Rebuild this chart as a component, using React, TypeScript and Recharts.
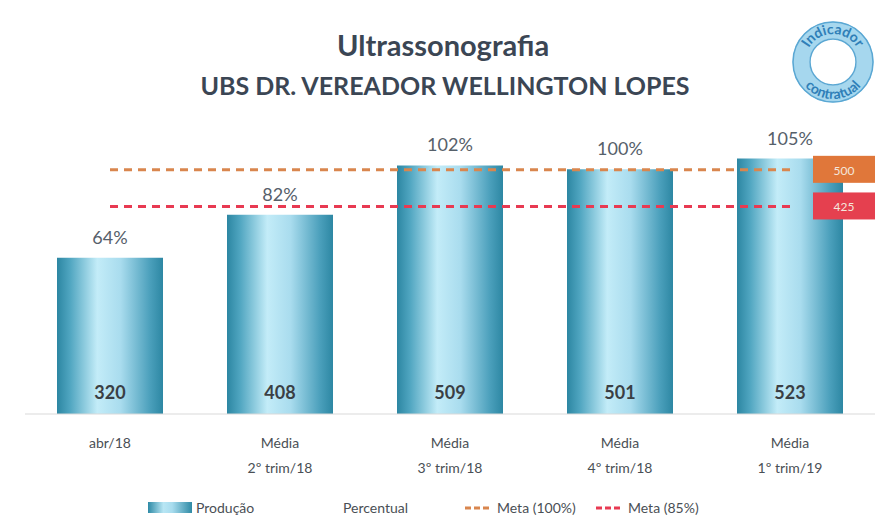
import React from "react";
import { ComposedChart, Bar, Line, XAxis, YAxis, LabelList } from "recharts";

const categoriesTop = ["abr/18", "Média", "Média", "Média", "Média"];
const categoriesBottom = ["", "2º trim/18", "3º trim/18", "4º trim/18", "1º trim/19"];
const producao = [320, 408, 509, 501, 523];
const percentual = [64, 82, 102, 100, 105];
const meta100 = [500, 500, 500, 500, 500];
const meta85 = [425, 425, 425, 425, 425];

const data = categoriesTop.map((c, i) => ({
  name: c,
  sub: categoriesBottom[i],
  producao: producao[i],
  percentual: percentual[i],
  meta100: meta100[i],
  meta85: meta85[i],
}));

const FONT = "Lato, 'Open Sans', sans-serif";

const Tick = (props: any) => {
  const { x, y, payload, index } = props;
  const sub = categoriesBottom[index] ?? data[payload.index]?.sub;
  return (
    <g>
      <text x={x} y={y + 26} textAnchor="middle" fontSize={14} fill="#4a4f55" fontFamily={FONT}>
        {payload.value}
      </text>
      {sub ? (
        <text x={x} y={y + 51} textAnchor="middle" fontSize={14} fill="#4a4f55" fontFamily={FONT}>
          {sub}
        </text>
      ) : null}
    </g>
  );
};

const ValueLabel = (props: any) => {
  const { x, y, width, height, value } = props;
  return (
    <text x={x + width / 2} y={y + height - 15} textAnchor="middle" fontSize={18} fontWeight={700} fill="#3a3f44" fontFamily={FONT}>
      {value}
    </text>
  );
};

const PctLabel = (props: any) => {
  const { x, y, width, index } = props;
  return (
    <text x={x + width / 2} y={y - 14} textAnchor="middle" fontSize={18} fill="#56606a" fontFamily={FONT}>
      {percentual[index]}%
    </text>
  );
};

const makeTag = (color: string, lastIndex: number) => (props: any) => {
  const { x, y, index, value } = props;
  if (index !== lastIndex) return null;
  return (
    <g>
      <rect x={x + 23} y={y - 14} width={62} height={27} fill={color} />
      <text x={x + 54} y={y + 5} textAnchor="middle" fontSize={12} fill="#f4e6dc" fontFamily={FONT}>
        {value}
      </text>
    </g>
  );
};

const Stamp = () => (
  <svg width={92} height={92} style={{ position: "absolute", left: 787, top: 16 }}>
    <defs>
      <path id="arcTop" d="M 18 46 A 28 28 0 0 1 74 46" />
      <path id="arcBot" d="M 9 46 A 37 37 0 0 0 83 46" />
    </defs>
    <circle cx={46} cy={46} r={32} fill="none" stroke="#a6d7ee" strokeWidth={17} />
    <circle cx={46} cy={46} r={40} fill="none" stroke="#5aa7d3" strokeWidth={1.5} />
    <circle cx={46} cy={46} r={23} fill="none" stroke="#5aa7d3" strokeWidth={1.5} />
    <text fontSize={14} fontWeight={700} fill="#2f7fb8" fontFamily={FONT}>
      <textPath href="#arcTop" startOffset="50%" textAnchor="middle">Indicador</textPath>
    </text>
    <text fontSize={14} fontWeight={700} fill="#2f7fb8" fontFamily={FONT}>
      <textPath href="#arcBot" startOffset="50%" textAnchor="middle">contratual</textPath>
    </text>
  </svg>
);

const Legend = () => (
  <div style={{ position: "absolute", top: 498, left: 0, width: 879, height: 20, fontFamily: FONT, fontSize: 14, color: "#4a4f55" }}>
    <div style={{ position: "absolute", left: 148, top: 4, width: 44, height: 11, background: "linear-gradient(90deg,#2e8aa6,#b8e6f4 35%,#a8dcee 55%,#2f8aa5)" }} />
    <span style={{ position: "absolute", left: 196, top: 1 }}>Produção</span>
    <span style={{ position: "absolute", left: 343, top: 1 }}>Percentual</span>
    <svg style={{ position: "absolute", left: 465, top: 6 }} width={26} height={8}>
      <line x1={0} y1={4} x2={26} y2={4} stroke="#d9864e" strokeWidth={3} strokeDasharray="6 3" />
    </svg>
    <span style={{ position: "absolute", left: 497, top: 1 }}>Meta (100%)</span>
    <svg style={{ position: "absolute", left: 596, top: 6 }} width={26} height={8}>
      <line x1={0} y1={4} x2={26} y2={4} stroke="#e83a52" strokeWidth={3} strokeDasharray="6 3" />
    </svg>
    <span style={{ position: "absolute", left: 628, top: 1 }}>Meta (85%)</span>
  </div>
);

export default function App() {
  return (
    <div style={{ position: "fixed", left: 0, top: 0, width: 879, height: 526, background: "#ffffff" }}>
      <ComposedChart
        width={879}
        height={526}
        data={data}
        margin={{ top: 121, right: 4, left: 25, bottom: 0 }}
        barCategoryGap={64}
      >
        <defs>
          <linearGradient id="barGrad" x1="0" y1="0" x2="1" y2="0">
            <stop offset="0" stopColor="#2c86a2" />
            <stop offset="0.12" stopColor="#4fa5c0" />
            <stop offset="0.38" stopColor="#c3ecf8" />
            <stop offset="0.6" stopColor="#a9dcee" />
            <stop offset="0.88" stopColor="#4a9fbb" />
            <stop offset="1" stopColor="#2d87a3" />
          </linearGradient>
        </defs>
        <text x={443} y={56} textAnchor="middle" fontSize={29} fontWeight={700} fill="#3b4654" fontFamily={FONT}>
          Ultrassonografia
        </text>
        <text x={445} y={95} textAnchor="middle" fontSize={25} fontWeight={700} fill="#3b4654" fontFamily={FONT}>
          UBS DR. VEREADOR WELLINGTON LOPES
        </text>
        <XAxis
          dataKey="name"
          height={112}
          tickLine={false}
          axisLine={{ stroke: "#d9d9d9" }}
          tick={<Tick />}
          interval={0}
        />
        <YAxis hide domain={[0, 600]} />
        <Bar dataKey="producao" name="Produção" fill="url(#barGrad)" barSize={106} isAnimationActive={false}>
          <LabelList dataKey="producao" content={<ValueLabel />} />
          <LabelList dataKey="percentual" content={<PctLabel />} />
        </Bar>
        <Line
          dataKey="meta100"
          name="Meta (100%)"
          stroke="#d9864e"
          strokeWidth={3}
          strokeDasharray="8 6"
          dot={false}
          isAnimationActive={false}
        >
          <LabelList dataKey="meta100" content={makeTag("#e0773a", 4)} />
        </Line>
        <Line
          dataKey="meta85"
          name="Meta (85%)"
          stroke="#e83a52"
          strokeWidth={3}
          strokeDasharray="8 6"
          dot={false}
          isAnimationActive={false}
        >
          <LabelList dataKey="meta85" content={makeTag("#e5404f", 4)} />
        </Line>
      </ComposedChart>
      <Stamp />
      <Legend />
    </div>
  );
}
